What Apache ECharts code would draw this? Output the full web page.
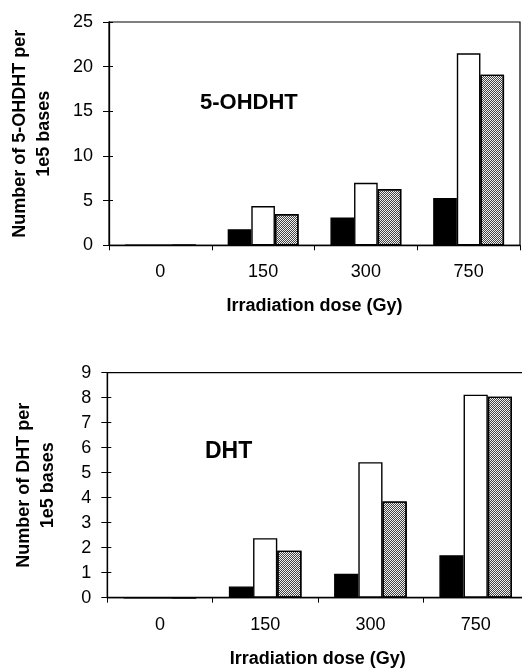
<!DOCTYPE html>
<html>
<head>
<meta charset="utf-8">
<script src="https://cdn.jsdelivr.net/npm/echarts@6/dist/echarts.min.js"></script>
<style>
  html, body { margin: 0; padding: 0; background: #fff; }
  #chart { width: 522px; height: 669px; }
</style>
</head>
<body>
<div id="chart"></div>
<script>
// ---- data ----
const categories = ['0', '150', '300', '750'];
const ohdhtBlack = [0, 1.8, 3.1, 5.3];
const ohdhtWhite = [0, 4.4, 7.0, 21.5];
const ohdhtGray  = [0, 3.5, 6.3, 19.1];
const dhtBlack = [0, 0.45, 0.96, 1.7];
const dhtWhite = [0, 2.38, 5.42, 8.12];
const dhtGray  = [0, 1.88, 3.85, 8.04];
const xAxisTitle = 'Irradiation dose (Gy)';
const topYTitle = 'Number of 5-OHDHT per\n1e5 bases';
const botYTitle = 'Number of DHT per\n1e5 bases';
const topLabel = '5-OHDHT';
const botLabel = 'DHT';

const FONT = "'Liberation Sans', Arial, sans-serif";
const chart = echarts.init(document.getElementById('chart'));

const grayDecal = {
  symbol: 'rect', symbolSize: 1,
  dashArrayX: [[1, 1], [0, 1, 1, 0]], dashArrayY: [1, 0],
  color: '#444', rotation: 0
};

function barSeries(data, gridIdx, kind) {
  const style = { borderColor: '#000', borderWidth: 1.4 };
  if (kind === 'black') style.color = '#000';
  else if (kind === 'white') style.color = '#fff';
  else { style.color = '#f0f0f0'; style.decal = grayDecal; }
  return {
    type: 'bar', xAxisIndex: gridIdx, yAxisIndex: gridIdx * 2,
    data: data, barGap: '0%', barCategoryGap: '31%',
    itemStyle: style, silent: true, animation: false
  };
}

function xAxis(gridIdx) {
  return {
    type: 'category', gridIndex: gridIdx, data: categories,
    boundaryGap: true,
    axisLine: { lineStyle: { color: '#000', width: 1.3 } },
    axisTick: { show: true, length: 5, lineStyle: { color: '#000', width: 1 } },
    axisLabel: { color: '#000', fontSize: 18, fontFamily: FONT, margin: 18 },
    name: xAxisTitle, nameLocation: 'middle', nameGap: 52,
    nameTextStyle: { color: '#000', fontSize: 18, fontWeight: 'bold', fontFamily: FONT }
  };
}

function yAxes(gridIdx, max, interval, title, gap) {
  return [{
    type: 'value', gridIndex: gridIdx, min: 0, max: max, interval: interval,
    splitLine: { show: false },
    axisLine: { show: true, lineStyle: { color: '#000', width: 1.3 } },
    axisTick: { show: true, length: 6, lineStyle: { color: '#000', width: 1 } },
    axisLabel: { color: '#000', fontSize: 18, fontFamily: FONT, margin: 16 },
    name: title, nameLocation: 'middle', nameGap: gap, nameRotate: 90,
    nameTextStyle: { color: '#000', fontSize: 18, fontWeight: 'bold', fontFamily: FONT, lineHeight: 24 }
  }, {
    type: 'value', gridIndex: gridIdx, min: 0, max: max, interval: interval,
    position: 'left', splitLine: { show: false },
    axisLine: { show: false },
    axisTick: { show: true, inside: true, length: 4, lineStyle: { color: '#000', width: 1 } },
    axisLabel: { show: false }
  }];
}

chart.setOption({
  animation: false,
  backgroundColor: '#fff',
  grid: [
    { left: 109, top: 22, width: 411, height: 223.3, show: true, outerBoundsMode: 'none', borderColor: '#000', borderWidth: 1.2, backgroundColor: 'transparent' },
    { left: 107.3, top: 372.7, width: 421, height: 225, show: true, outerBoundsMode: 'none', borderColor: '#000', borderWidth: 1.2, backgroundColor: 'transparent' }
  ],
  xAxis: [xAxis(0), xAxis(1)],
  yAxis: [].concat(yAxes(0, 25, 5, topYTitle, 53), yAxes(1, 9, 1, botYTitle, 47)),
  series: [
    barSeries(ohdhtBlack, 0, 'black'),
    barSeries(ohdhtWhite, 0, 'white'),
    barSeries(ohdhtGray, 0, 'gray'),
    barSeries(dhtBlack, 1, 'black'),
    barSeries(dhtWhite, 1, 'white'),
    barSeries(dhtGray, 1, 'gray')
  ],
  graphic: [
    { type: 'text', x: 200, y: 103, silent: true,
      style: { text: topLabel, fill: '#000', fontSize: 22, fontWeight: 'bold', fontFamily: FONT, verticalAlign: 'middle' } },
    { type: 'text', x: 205, y: 452, silent: true,
      style: { text: botLabel, fill: '#000', fontSize: 23, fontWeight: 'bold', fontFamily: FONT, verticalAlign: 'middle' } }
  ]
});
</script>
</body>
</html>
